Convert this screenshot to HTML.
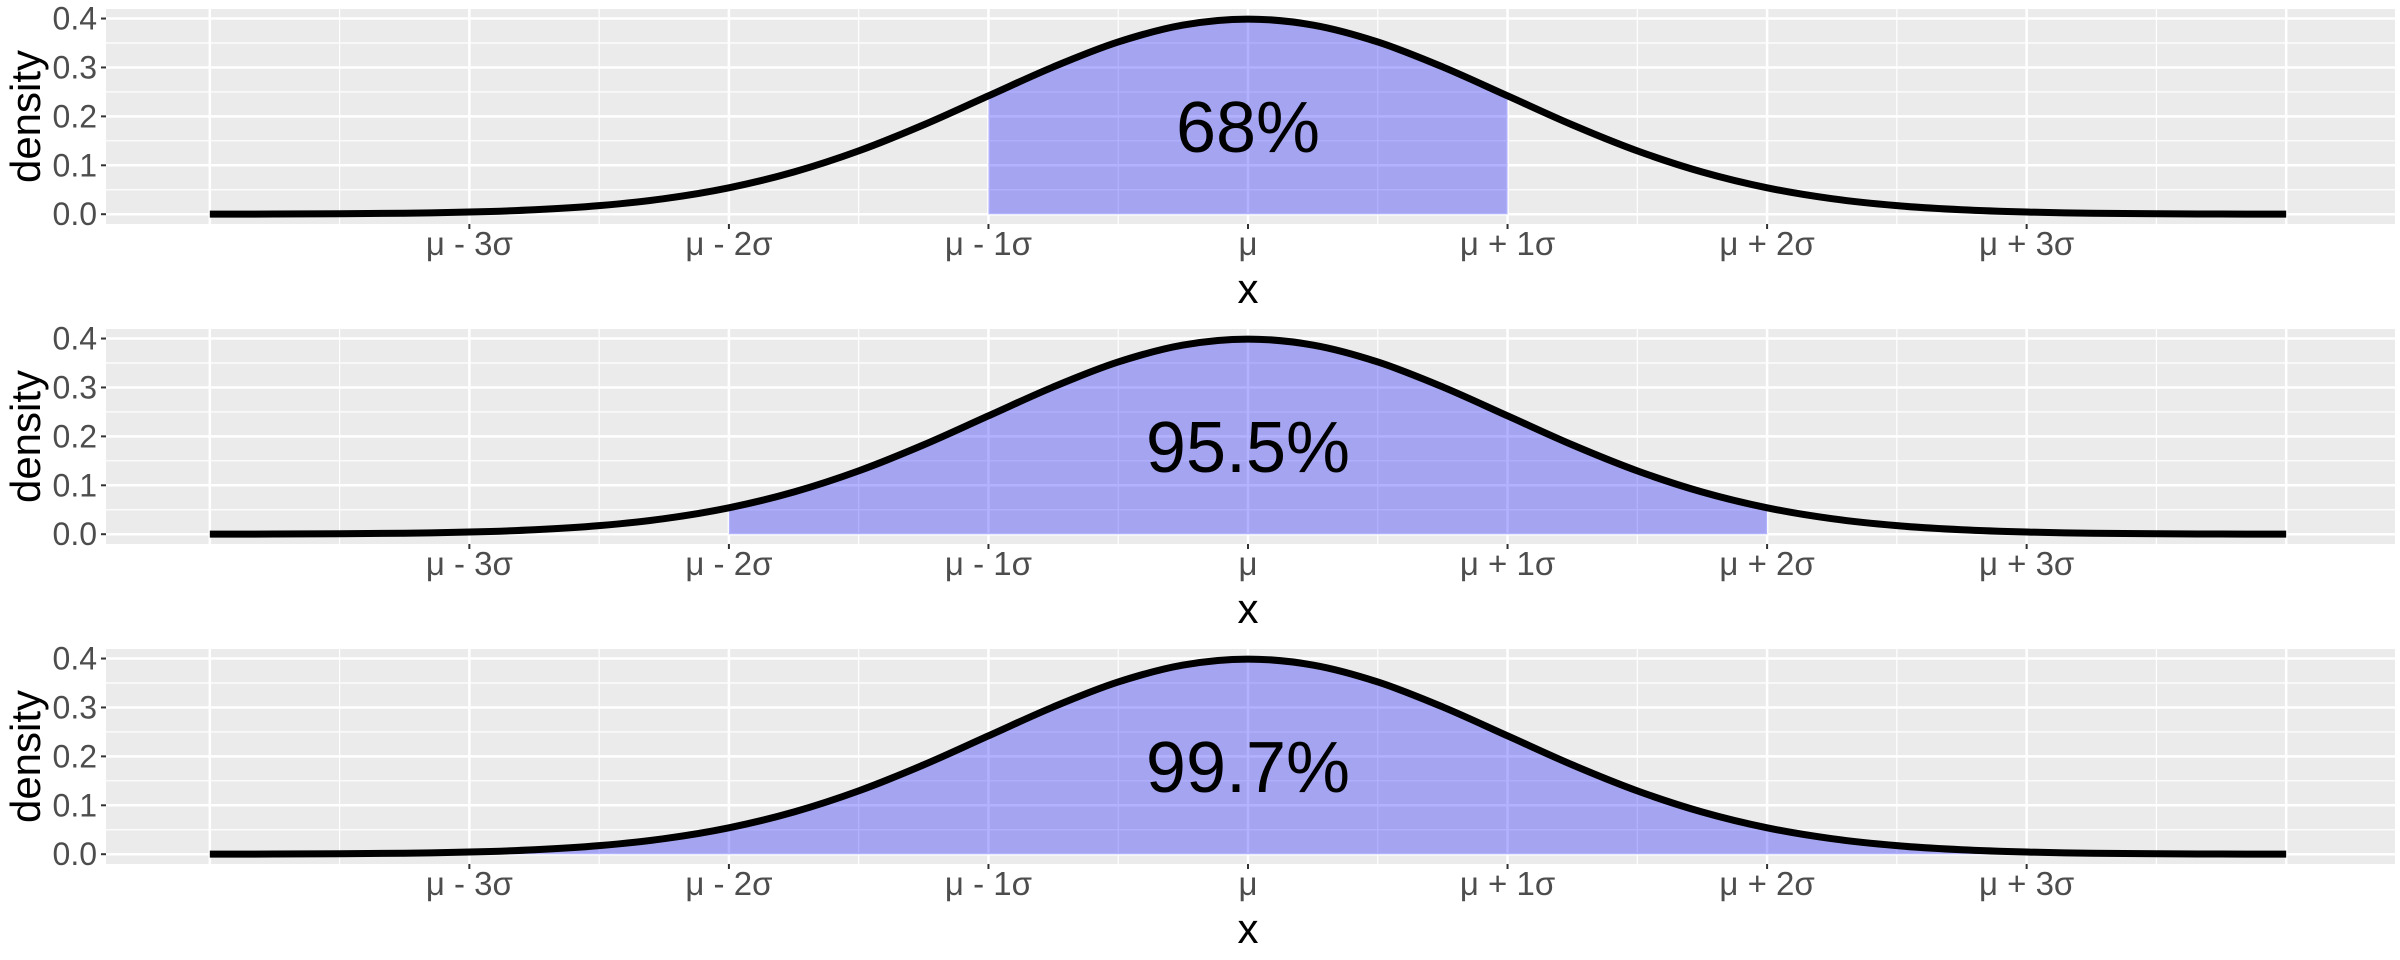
<!DOCTYPE html>
<html><head><meta charset="utf-8"><style>
html,body{margin:0;padding:0;background:#fff}
svg{display:block}
text{font-family:"Liberation Sans",sans-serif}
</style></head><body>
<svg id="chart" width="2400" height="960" viewBox="0 0 2400 960" xmlns="http://www.w3.org/2000/svg"></svg>
<script>
// data: standard normal density sampled at x = -4..4 (step 0.25)
const xs = [-4,-3.75,-3.5,-3.25,-3,-2.75,-2.5,-2.25,-2,-1.75,-1.5,-1.25,-1,-0.75,-0.5,-0.25,0,0.25,0.5,0.75,1,1.25,1.5,1.75,2,2.25,2.5,2.75,3,3.25,3.5,3.75,4];
const densities = [0.0001,0.0004,0.0009,0.0020,0.0044,0.0091,0.0175,0.0317,0.0540,0.0863,0.1295,0.1826,0.2420,0.3011,0.3521,0.3867,0.3989,0.3867,0.3521,0.3011,0.2420,0.1826,0.1295,0.0863,0.0540,0.0317,0.0175,0.0091,0.0044,0.0020,0.0009,0.0004,0.0001];
const shadeK = [1,2,3];
const percentLabels = ["68%","95.5%","99.7%"];
const xTickValues = [-3,-2,-1,0,1,2,3];
const xTickLabels = ["μ - 3σ","μ - 2σ","μ - 1σ","μ","μ + 1σ","μ + 2σ","μ + 3σ"];
const yTickValues = [0,0.1,0.2,0.3,0.4];
const yTickLabels = ["0.0","0.1","0.2","0.3","0.4"];
const labelY = 0.127;

const NS="http://www.w3.org/2000/svg";
const svg=document.getElementById('chart');
const PL=106, PR=2390, PH=215, XMIN=-4.4, XMAX=4.4, YMIN=-0.02, YMAX=0.4195;
function sx(v){return PL+(v-XMIN)/(XMAX-XMIN)*(PR-PL);}
function mk(tag,attrs,parent){const e=document.createElementNS(NS,tag);for(const k in attrs)e.setAttribute(k,attrs[k]);(parent||svg).appendChild(e);return e;}
function smoothPath(pts){
  let d="M"+pts[0][0].toFixed(2)+","+pts[0][1].toFixed(2);
  for(let i=0;i<pts.length-1;i++){
    const p0=pts[Math.max(0,i-1)],p1=pts[i],p2=pts[i+1],p3=pts[Math.min(pts.length-1,i+2)];
    const c1=[p1[0]+(p2[0]-p0[0])/6,p1[1]+(p2[1]-p0[1])/6];
    const c2=[p2[0]-(p3[0]-p1[0])/6,p2[1]-(p3[1]-p1[1])/6];
    d+="C"+c1[0].toFixed(2)+","+c1[1].toFixed(2)+" "+c2[0].toFixed(2)+","+c2[1].toFixed(2)+" "+p2[0].toFixed(2)+","+p2[1].toFixed(2);
  }
  return d;
}
for(let p=0;p<3;p++){
  const top=9+p*320, bot=top+PH;
  function sy(v){return bot-(v-YMIN)/(YMAX-YMIN)*PH;}
  const g=mk('g',{});
  
  
  const bg=mk('rect',{x:PL,y:top,width:2395-PL,height:PH,fill:'#ebebeb'},g);
  
  
  for(let v=-3.5;v<=3.5;v+=1){mk('line',{x1:sx(v),x2:sx(v),y1:top,y2:bot,stroke:'#fff','stroke-width':1.2},g);}
  for(let v=0.05;v<0.4;v+=0.1){mk('line',{x1:PL,x2:2395,y1:sy(v),y2:sy(v),stroke:'#fff','stroke-width':1.2},g);}
  for(let v=-4;v<=4;v+=1){mk('line',{x1:sx(v),x2:sx(v),y1:top,y2:bot,stroke:'#fff','stroke-width':2.5},g);}
  yTickValues.forEach(v=>{mk('line',{x1:PL,x2:2395,y1:sy(v),y2:sy(v),stroke:'#fff','stroke-width':2.5},g);});
  const k=shadeK[p];
  const sp=[];xs.forEach((x,i)=>{if(x>=-k&&x<=k)sp.push([sx(x),sy(densities[i])]);});
  const fd=smoothPath(sp)+"L"+sp[sp.length-1][0]+","+sy(0)+"L"+sp[0][0]+","+sy(0)+"Z";
  const area=mk('path',{d:fd,fill:'rgba(0,0,255,0.3)'},g);
  
  
  const cp=xs.map((x,i)=>[sx(x),sy(densities[i])]);
  const curve=mk('path',{d:smoothPath(cp),fill:'none',stroke:'#000','stroke-width':7},g);
  
  
  const pl=mk('text',{x:sx(0),y:sy(labelY),'font-size':72,'text-anchor':'middle',fill:'#000'},g);
  pl.textContent=percentLabels[p];
  
  
  yTickValues.forEach((v,i)=>{
    mk('line',{x1:PL-5,x2:PL,y1:sy(v),y2:sy(v),stroke:'#333','stroke-width':2},g);
    const t=mk('text',{x:PL-9,y:sy(v)+11,'font-size':32,'text-anchor':'end',fill:'#4d4d4d'},g);
    t.textContent=yTickLabels[i];
    
    
  });
  xTickValues.forEach((v,i)=>{
    mk('line',{x1:sx(v),x2:sx(v),y1:bot,y2:bot+5,stroke:'#333','stroke-width':2},g);
    const t=mk('text',{x:sx(v),y:bot+31,'font-size':33,'text-anchor':'middle',fill:'#4d4d4d'},g);
    t.textContent=xTickLabels[i];
    
    
  });
  const xt=mk('text',{x:sx(0),y:bot+79,'font-size':42,'text-anchor':'middle',fill:'#000'},g);
  xt.textContent='x';
  
  
  const yt=mk('text',{x:0,y:0,'font-size':42,'text-anchor':'middle',fill:'#000',transform:'translate(40,'+((top+bot)/2)+') rotate(-90)'},g);
  yt.textContent='density';
  
  
}
</script>
</body></html>
